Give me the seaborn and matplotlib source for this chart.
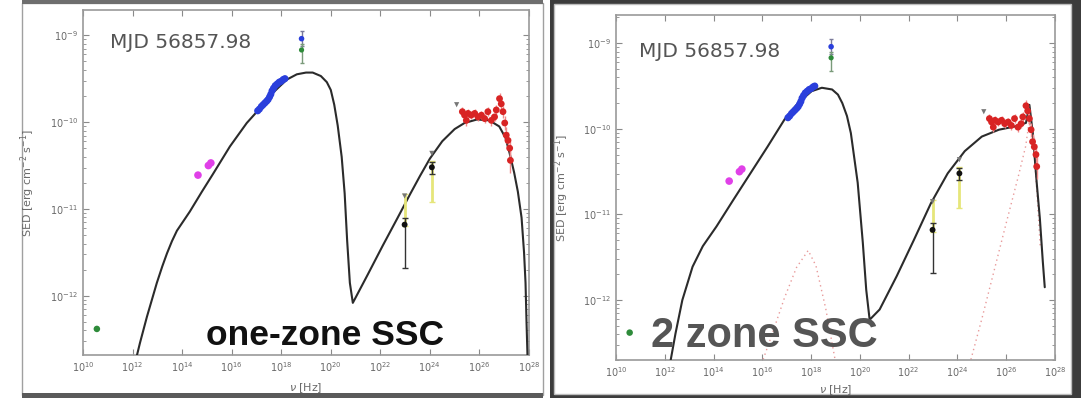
import numpy as np
import pandas as pd
import matplotlib
matplotlib.use("Agg")
import matplotlib.pyplot as plt
import seaborn as sns
from matplotlib.patches import Rectangle
from matplotlib.ticker import LogLocator, NullFormatter, FixedLocator

# ---------------- data (log10 values) ----------------
# one-zone SSC model (total)
one_logx = [12.10, 12.18, 12.30, 12.58, 12.98, 13.20, 13.39, 13.59, 13.79, 14.31, 14.80, 15.24, 15.93,
            16.61, 17.02, 17.60, 18.23, 18.63, 19.00, 19.27, 19.60, 19.84, 20.00, 20.14, 20.28,
            20.44, 20.56, 20.66, 20.77, 20.89, 21.50, 22.10, 22.70, 23.20, 23.60, 24.00,
            24.50, 25.00, 25.40, 25.90, 26.40, 26.80, 27.05, 27.22, 27.40, 27.55, 27.70,
            27.80, 27.86, 27.90, 27.94, 27.97]
one_logy = [-12.85, -12.68, -12.54, -12.24, -11.85, -11.66, -11.51, -11.37, -11.25, -11.03, -10.80, -10.60, -10.28,
            -10.01, -9.88, -9.68, -9.51, -9.45, -9.43, -9.43, -9.47, -9.54, -9.63, -9.80, -10.04,
            -10.40, -10.82, -11.36, -11.85, -12.08, -11.75, -11.42, -11.10, -10.83, -10.62, -10.42,
            -10.22, -10.08, -10.01, -9.97, -9.98, -10.05, -10.18, -10.36, -10.58, -10.80, -11.10,
            -11.50, -11.85, -12.30, -12.70, -12.95]

# two-zone SSC model (total)
two_logx = [12.15, 12.23, 12.44, 12.72, 13.14, 13.56, 14.12, 14.81, 15.51, 16.21, 16.91, 17.46,
            18.02, 18.44, 18.86, 19.10, 19.28, 19.47, 19.63, 19.91, 20.12, 20.26, 20.40, 20.81, 21.51, 22.21,
            22.91, 23.60, 24.30, 25.00, 25.70, 26.39, 26.81, 26.95, 27.09, 27.25, 27.38, 27.50, 27.58]
two_logy = [-13.00, -12.72, -12.39, -12.00, -11.61, -11.37, -11.14, -10.83, -10.52, -10.21, -9.89, -9.70,
            -9.56, -9.52, -9.54, -9.60, -9.70, -9.85, -10.05, -10.63, -11.33, -11.88, -12.23, -12.11, -11.72, -11.30,
            -10.87, -10.52, -10.26, -10.09, -10.01, -9.97, -9.93, -9.72, -10.05, -10.63, -11.05, -11.55, -11.85]

# second-zone components (dotted)
z2sync_logx = [15.90, 16.40, 16.90, 17.40, 17.88, 18.20, 18.60, 19.05]
z2sync_logy = [-12.80, -12.40, -11.98, -11.62, -11.42, -11.60, -12.10, -12.80]
z2ic_logx = [24.50, 25.00, 25.50, 26.00, 26.50, 26.80, 26.97, 27.10, 27.25, 27.40]
z2ic_logy = [-12.75, -12.22, -11.66, -11.10, -10.55, -10.20, -9.85, -10.10, -10.70, -11.40]

# observations
radio_logx = [10.56]
radio_logy = [-12.38]
mag_logx = [14.64, 15.06, 15.16]
mag_logy = [-10.61, -10.50, -10.47]
opt_logx = [17.05, 17.12, 17.20, 17.27, 17.34, 17.41, 17.47, 17.53, 17.58, 17.63, 17.69,
            17.76, 17.84, 17.92, 18.00, 18.08, 18.15]
opt_logy = [-9.87, -9.85, -9.82, -9.80, -9.78, -9.76, -9.74, -9.71, -9.68, -9.64, -9.61,
            -9.58, -9.56, -9.54, -9.53, -9.51, -9.50]
xb_logx = [18.82]
xb_logy = [-9.04]
xb_lo = [-9.12]
xb_hi = [-8.95]
xg_logx = [18.82]
xg_logy = [-9.17]
xg_lo = [-9.32]
xg_hi = [-9.10]
yel_logx = [22.98, 24.08]
yel_logy = [-11.00, -10.72]
yel_lo = [-11.20, -10.92]
yel_hi = [-10.83, -10.45]
blk_logx = [22.98, 24.08]
blk_logy = [-11.18, -10.52]
blk_lo = [-11.68, -10.60]
blk_hi = [-11.10, -10.46]
ul_logx = [22.98, 24.08, 25.08]
ul_logy = [-10.85, -10.36, -9.80]
red_logx = [25.31, 25.40, 25.47, 25.54, 25.67, 25.81, 25.94, 26.08, 26.21, 26.34, 26.48,
            26.61, 26.68, 26.81, 26.88, 26.95, 27.02, 27.08, 27.15, 27.22, 27.25]
red_logy = [-9.88, -9.92, -9.98, -9.90, -9.92, -9.90, -9.94, -9.92, -9.96, -9.88, -9.98,
            -9.94, -9.86, -9.73, -9.79, -9.88, -10.01, -10.15, -10.21, -10.30, -10.44]
red_err = [0.05, 0.05, 0.06, 0.05, 0.05, 0.05, 0.05, 0.05, 0.05, 0.05, 0.06,
           0.05, 0.06, 0.07, 0.07, 0.07, 0.08, 0.09, 0.10, 0.12, 0.14]

xtick_exp = [10, 12, 14, 16, 18, 20, 22, 24, 26, 28]
ytick_exp = [-12, -11, -10, -9]

panel_text = "MJD 56857.98"
title_one = "one-zone SSC"
title_two = "2 zone SSC"
ylabel = r"SED [erg cm$^{-2}$ s$^{-1}$]"
xlabel = r"$\nu$ [Hz]"

# ---------------- figure ----------------
sns.set_style("ticks")
plt.rcParams['font.family'] = ['DejaVu Sans']
W, H = 1081, 398
fig = plt.figure(figsize=(W / 100, H / 100), dpi=100)
fig.patch.set_facecolor("white")


def prect(x0, y0, x1, y1, **kw):
    r = Rectangle((x0 / W, 1 - y1 / H), (x1 - x0) / W, (y1 - y0) / H,
                  transform=fig.transFigure, zorder=-10, **kw)
    fig.add_artist(r)


# screenshot frames
prect(22, 3, 543, 395, facecolor="white", edgecolor="#a0a0a0", lw=1.0)
prect(22, 0, 543, 4, facecolor="#6e6e6e", edgecolor="none")
prect(22, 393, 543, 398, facecolor="#5a5a5a", edgecolor="none")
prect(550, 0, 1081, 398, facecolor="#3c3c3c", edgecolor="none")
prect(554, 4, 1071, 394, facecolor="white", edgecolor="#bdbdbd", lw=1.0)


def L(v):
    return [10.0 ** a for a in v]


def draw_panel(ax, model_x, model_y, ylim, comps):
    ax.set_xscale("log")
    ax.set_yscale("log")
    sns.lineplot(x=L(model_x), y=L(model_y), ax=ax, color="#2b2b2b", lw=1.5,
                 sort=False, estimator=None, zorder=3)
    for cx, cy in comps:
        sns.lineplot(x=L(cx), y=L(cy), ax=ax, color="#e89a9a", lw=1.0,
                     linestyle=(0, (1, 2.5)), sort=False, estimator=None, zorder=2)
    # error bars
    ax.errorbar(L(yel_logx), L(yel_logy),
                yerr=[np.array(L(yel_logy)) - np.array(L(yel_lo)),
                      np.array(L(yel_hi)) - np.array(L(yel_logy))],
                fmt="none", ecolor="#e6e67a", elinewidth=2.0, capsize=2, zorder=4)
    ax.errorbar(L(blk_logx), L(blk_logy),
                yerr=[np.array(L(blk_logy)) - np.array(L(blk_lo)),
                      np.array(L(blk_hi)) - np.array(L(blk_logy))],
                fmt="none", ecolor="#333333", elinewidth=1.0, capsize=2, zorder=4)
    ax.errorbar(L(xb_logx), L(xb_logy),
                yerr=[np.array(L(xb_logy)) - np.array(L(xb_lo)),
                      np.array(L(xb_hi)) - np.array(L(xb_logy))],
                fmt="none", ecolor="#7a7a9a", elinewidth=1.0, capsize=1.5, zorder=4)
    ax.errorbar(L(xg_logx), L(xg_logy),
                yerr=[np.array(L(xg_logy)) - np.array(L(xg_lo)),
                      np.array(L(xg_hi)) - np.array(L(xg_logy))],
                fmt="none", ecolor="#7a9a7a", elinewidth=1.0, capsize=1.5, zorder=4)
    ry = np.array(red_logy)
    re = np.array(red_err)
    ax.errorbar(L(red_logx), L(red_logy),
                yerr=[np.array(L(ry)) - np.array(L(ry - re)),
                      np.array(L(ry + re)) - np.array(L(ry))],
                fmt="none", ecolor="#f08a8a", elinewidth=1.0, zorder=4)
    # points
    sns.scatterplot(x=L(radio_logx), y=L(radio_logy), ax=ax, color="#2e8b3a", s=22,
                    edgecolor="none", zorder=5)
    sns.scatterplot(x=L(mag_logx), y=L(mag_logy), ax=ax, color="#e040e8", s=30,
                    edgecolor="none", zorder=5)
    sns.scatterplot(x=L(opt_logx), y=L(opt_logy), ax=ax, color="#2a3fdc", s=26,
                    edgecolor="none", zorder=5)
    sns.scatterplot(x=L(xb_logx), y=L(xb_logy), ax=ax, color="#2a3fdc", s=16,
                    edgecolor="none", zorder=5)
    sns.scatterplot(x=L(xg_logx), y=L(xg_logy), ax=ax, color="#2e8b3a", s=14,
                    edgecolor="none", zorder=5)
    sns.scatterplot(x=L(blk_logx), y=L(blk_logy), ax=ax, color="#111111", s=18,
                    edgecolor="none", zorder=6)
    sns.scatterplot(x=L(ul_logx), y=L(ul_logy), ax=ax, color="#777777", s=14,
                    marker="v", edgecolor="none", zorder=6)
    sns.scatterplot(x=L(red_logx), y=L(red_logy), ax=ax, color="#d82424", s=24,
                    edgecolor="none", zorder=6)

    ax.set_xlim(1e10, 1e28)
    ax.set_ylim(10 ** ylim[0], 10 ** ylim[1])
    ax.xaxis.set_major_locator(FixedLocator(L(xtick_exp)))
    ax.xaxis.set_minor_locator(FixedLocator([]))
    ax.yaxis.set_major_locator(FixedLocator(L(ytick_exp)))
    ax.yaxis.set_minor_locator(LogLocator(base=10, subs=np.arange(2, 10) * 1.0, numticks=20))
    ax.yaxis.set_minor_formatter(NullFormatter())
    ax.tick_params(which="both", direction="in", top=True, right=True,
                   colors="#8a8a8a", labelcolor="#6a6a6a", labelsize=7)
    ax.tick_params(which="major", length=4, width=0.8)
    ax.tick_params(which="minor", length=2, width=0.6)
    for sp in ax.spines.values():
        sp.set_color("#9a9a9a")
        sp.set_linewidth(1.2)
        sp.set_visible(True)
    ax.set_ylabel(ylabel, fontsize=8, color="#6a6a6a")
    ax.set_xlabel(xlabel, fontsize=8, color="#6a6a6a")
    ax.set_facecolor("white")


ax1 = fig.add_axes([83 / W, (H - 355) / H, 446 / W, 345 / H])
draw_panel(ax1, one_logx, one_logy, (-12.68, -8.71), [])
ax1.yaxis.set_label_coords(-0.103, 0.5)
ax1.xaxis.set_label_coords(0.5, -0.075)
ax1.text(0.06, 0.907, panel_text, transform=ax1.transAxes, fontsize=14.5,
         color="#555555", va="center", ha="left")
ax1.text(0.276, 0.03, title_one, transform=ax1.transAxes, fontsize=25.5,
         color="#111111", fontweight="bold", family="Liberation Sans",
         va="baseline", ha="left", zorder=10)

ax2 = fig.add_axes([616 / W, (H - 360) / H, 439 / W, 345 / H])
draw_panel(ax2, two_logx, two_logy, (-12.70, -8.67),
           [(z2sync_logx, z2sync_logy), (z2ic_logx, z2ic_logy)])
ax2.yaxis.set_label_coords(-0.103, 0.5)
ax2.xaxis.set_label_coords(0.5, -0.068)
ax2.text(0.052, 0.893, panel_text, transform=ax2.transAxes, fontsize=14.5,
         color="#555555", va="center", ha="left")
ax2.text(0.08, 0.038, title_two, transform=ax2.transAxes, fontsize=30,
         color="#555555", fontweight="bold", family="Liberation Sans",
         va="baseline", ha="left", zorder=10)

fig.savefig("out.png", dpi=100, facecolor="white")
